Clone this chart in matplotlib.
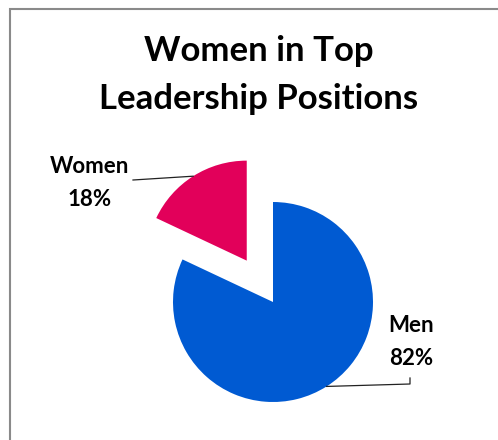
import matplotlib.pyplot as plt
import matplotlib.patches as mpatches
import numpy as np

categories = ["Men", "Women"]
shares = [82, 18]
colors = ["#005AD2", "#E2005A"]
explode = [0, 0.49]  # fraction of the radius

W, H = 498, 440
plt.rcParams["font.family"] = ["Lato", "DejaVu Sans"]

fig = plt.figure(figsize=(W / 100, H / 100), dpi=100)
ax = fig.add_axes([0, 0, 1, 1])

# pie placed in pixel-like data coords (y up)
cx, cy, r = 273, H - 302, 100
wedges, _ = ax.pie(
    shares,
    colors=colors,
    explode=[e * r for e in explode],
    startangle=90,
    counterclock=False,
    center=(cx, cy),
    radius=r,
    frame=True,
)
ax.set_xlim(0, W)
ax.set_ylim(0, H)
ax.set_aspect("equal")
ax.axis("off")


def edge_point(w):
    mid = np.deg2rad((w.theta1 + w.theta2) / 2)
    x0, y0 = w.center
    return x0 + w.r * np.cos(mid), y0 + w.r * np.sin(mid)


# Women label + leader line
wx, wy = edge_point(wedges[1])
ax.plot([133, wx], [H - 180, wy], color="#222222", lw=0.9)
ax.text(90, H - 183, f"{categories[1]}\n{shares[1]}%", ha="center", va="center",
        fontsize=16, fontweight="bold", linespacing=1.75)

# Men label + leader line
mx, my = edge_point(wedges[0])
ax.plot([mx, 410, 410], [my, H - 384, H - 378], color="#222222", lw=0.9)
ax.text(411, H - 342, f"{categories[0]}\n{shares[0]}%", ha="center", va="center",
        fontsize=16, fontweight="bold", linespacing=1.75)

# title
ax.text(259, H - 75, "Women in Top\nLeadership Positions", ha="center", va="center",
        fontsize=25, fontweight="bold", linespacing=1.6)

# chart border (cropped at right and bottom)
fig.patches.append(mpatches.Rectangle((10 / W, -0.1), 1.2, 1 - 9 / H + 0.1,
                                      transform=fig.transFigure, fill=False,
                                      edgecolor="#8a8a8a", lw=1.5))

fig.savefig("out.png", dpi=100)
